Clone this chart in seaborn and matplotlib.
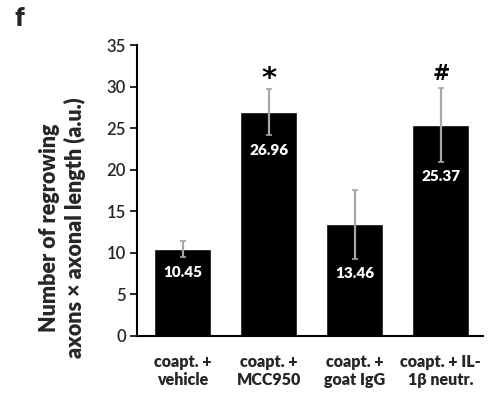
import matplotlib

matplotlib.use("Agg")

import matplotlib.pyplot as plt
import numpy as np
import pandas as pd
import seaborn as sns

categories = ["coapt. +\nvehicle", "coapt. +\nMCC950", "coapt. +\ngoat IgG", "coapt. + IL-\n1\u03b2 neutr."]
means = [10.45, 26.96, 13.46, 25.37]
errors = [1.0, 2.8, 4.15, 4.4]
markers = ["", "*", "", "#"]
y_ticks = [0, 5, 10, 15, 20, 25, 30, 35]

sns.set_theme(style="white")
plt.rcParams["font.family"] = ["Lato", "DejaVu Sans"]

df = pd.DataFrame({"group": categories, "value": means})

fig = plt.figure(figsize=(4.94, 4.01), dpi=100)
ax = fig.add_axes([137 / 494, 1 - 336 / 401, (483 - 137) / 494, (336 - 45) / 401])

sns.barplot(data=df, x="group", y="value", color="black", width=0.66,
            saturation=1, errorbar=None, ax=ax)
x = np.arange(len(categories))
ax.errorbar(x, means, yerr=errors, fmt="none", ecolor="#a6a6a6", elinewidth=1.6,
            capsize=2, capthick=1.2)

for xi, m, e, mk in zip(x, means, errors, markers):
    ax.text(xi, m - e - 1.8, f"{m:.2f}", color="white", ha="center", va="center",
            fontsize=11, fontweight="heavy")
    if mk == "*":
        ax.text(xi, m + e - 0.5, mk, color="black", ha="center", va="bottom",
                fontsize=21, fontweight="bold", family="DejaVu Sans")
    elif mk:
        ax.text(xi, m + e + 0.5, mk, color="black", ha="center", va="bottom",
                fontsize=15, fontweight="bold", family="DejaVu Sans")

ax.set_xlim(-0.53, 3.49)
ax.set_ylim(0, 35)
ax.set_yticks(y_ticks)
ax.set_xlabel("")
ax.set_ylabel("Number of regrowing\naxons \u00d7 axonal length (a.u.)", fontsize=15.5,
              fontweight="heavy", linespacing=1.2)
ax.yaxis.set_label_coords(-0.148, 0.373)
ax.tick_params(axis="y", length=5, width=1.2, color="black", labelsize=12, pad=3, direction="out", left=True)
ax.tick_params(axis="x", length=0, labelsize=11.5, pad=13)
for lab in ax.get_yticklabels():
    lab.set_fontweight("semibold")
for lab in ax.get_xticklabels():
    lab.set_fontweight("heavy")
    lab.set_linespacing(1.15)
sns.despine(ax=ax)
for side in ["left", "bottom"]:
    ax.spines[side].set_color("black")
    ax.spines[side].set_linewidth(1.5)

fig.text(14 / 494, 1 - 18 / 401, "f", fontsize=19, fontweight="heavy", ha="left", va="center")

fig.savefig("out.png", dpi=100)
